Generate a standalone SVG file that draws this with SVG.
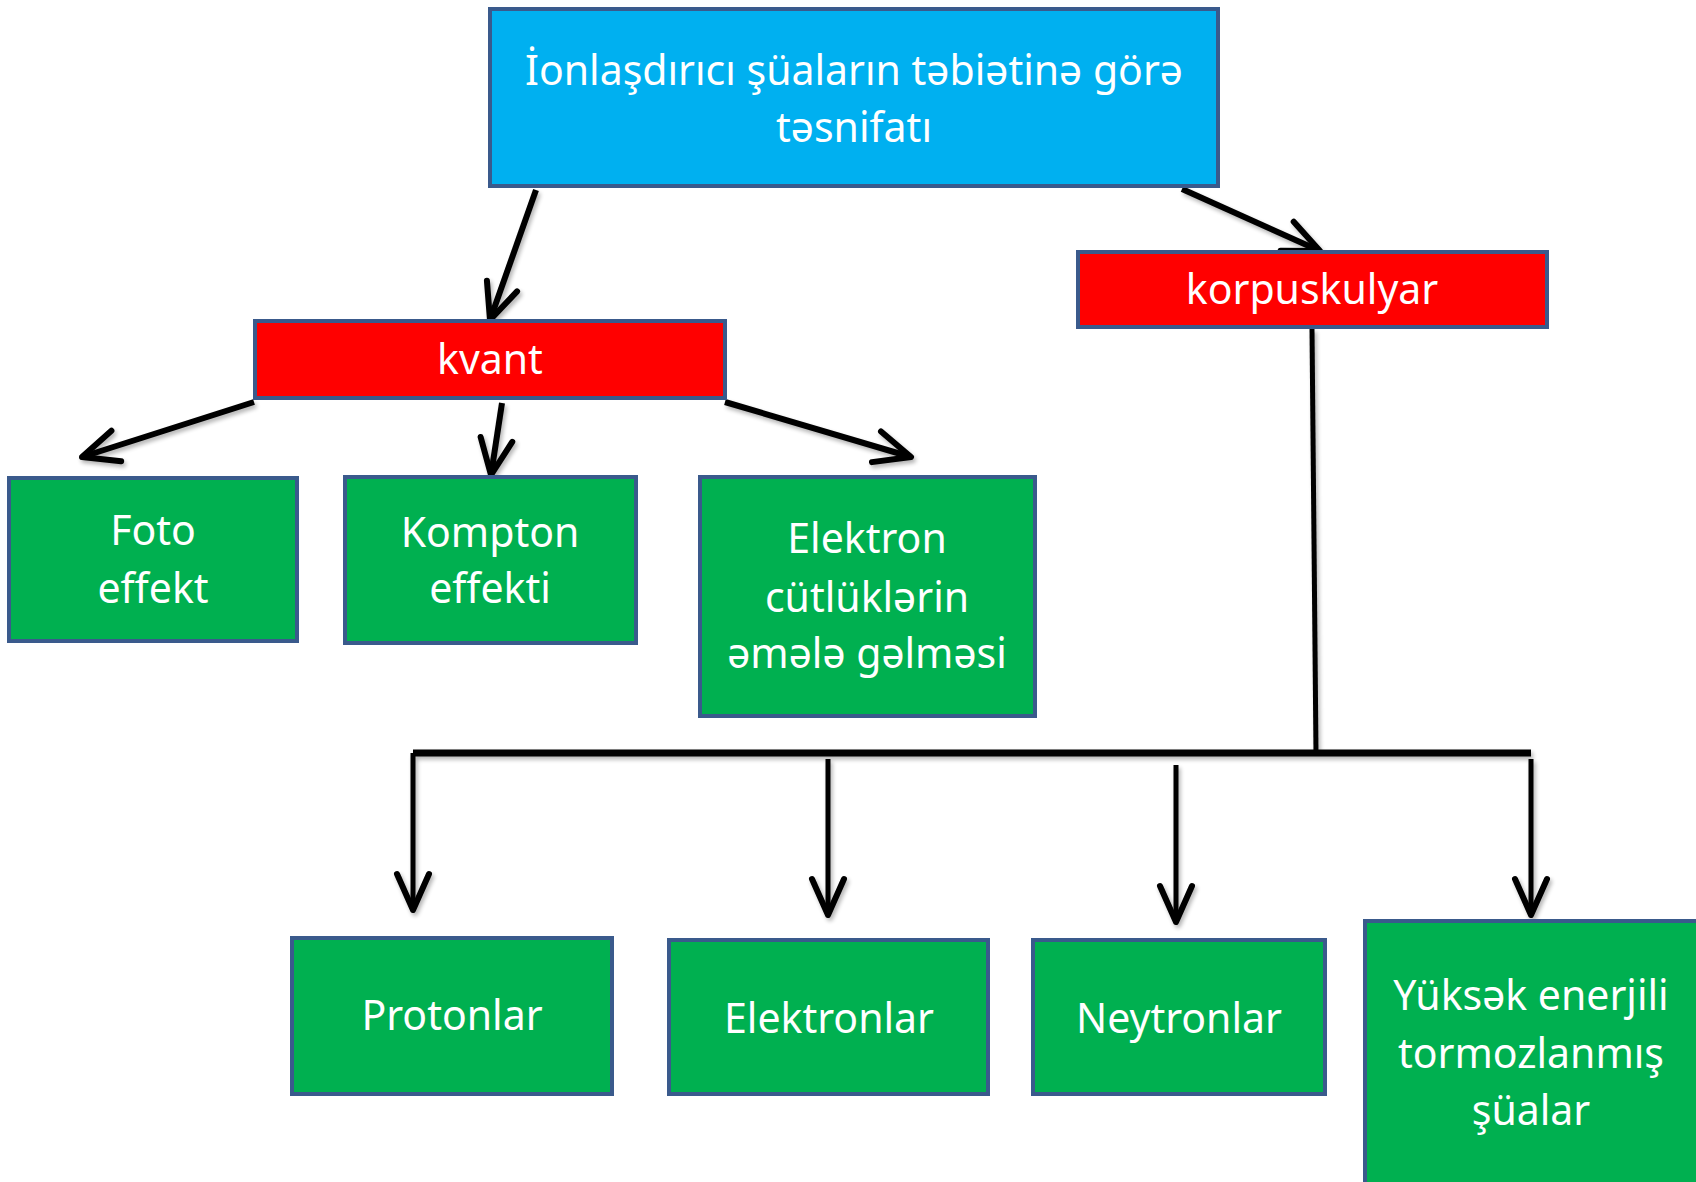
<svg xmlns="http://www.w3.org/2000/svg" width="1696" height="1182" viewBox="0 0 1696 1182">
<style>
.box{stroke:#3A5A8C;stroke-width:4}
.blue{fill:#00B0F0}
.red{fill:#FF0000}
.green{fill:#00B050}
text{font-family:"Noto Sans","Open Sans",sans-serif;fill:#FFFFFF;font-size:41px;text-anchor:middle}
.c{stroke:#000;stroke-width:6;fill:none}
.v{stroke:#000;stroke-width:5;fill:none}
</style>
<defs>
<marker id="ah" markerUnits="userSpaceOnUse" markerWidth="60" markerHeight="60" refX="0" refY="0" orient="auto" overflow="visible">
<path d="M -36 -16 L 0 0 L -36 16" fill="none" stroke="#000" stroke-width="6" stroke-linejoin="round" stroke-linecap="round"/>
</marker>
<filter id="sh" x="-20%" y="-20%" width="140%" height="140%">
<feGaussianBlur in="SourceAlpha" stdDeviation="2"/>
<feOffset dx="2" dy="3" result="b"/>
<feComponentTransfer><feFuncA type="linear" slope="0.3"/></feComponentTransfer>
<feMerge><feMergeNode/><feMergeNode in="SourceGraphic"/></feMerge>
</filter>
</defs>
<rect width="1696" height="1182" fill="#FFFFFF"/>
<g id="connectors" filter="url(#sh)">
<line class="c" x1="536" y1="190" x2="490" y2="320" marker-end="url(#ah)"/>
<line class="c" x1="1182" y1="189" x2="1320" y2="251" marker-end="url(#ah)"/>
<line class="c" x1="254" y1="402" x2="82" y2="457" marker-end="url(#ah)"/>
<line class="c" x1="502" y1="403" x2="491" y2="475" marker-end="url(#ah)"/>
<line class="c" x1="725" y1="402" x2="911" y2="457" marker-end="url(#ah)"/>
<line class="v" x1="1312" y1="329" x2="1316" y2="753"/>
<line x1="413" y1="753" x2="1531" y2="753" stroke="#000" stroke-width="7"/>
<line class="v" x1="413" y1="753" x2="413" y2="910" marker-end="url(#ah)"/>
<line class="v" x1="828" y1="759" x2="828" y2="915" marker-end="url(#ah)"/>
<line class="v" x1="1176" y1="765" x2="1176" y2="922" marker-end="url(#ah)"/>
<line class="v" x1="1531" y1="759" x2="1531" y2="915" marker-end="url(#ah)"/>
</g>
<g id="root">
<rect class="box blue" x="490" y="9" width="728" height="177"/>
<text x="854" y="85" font-size="42">İonlaşdırıcı şüaların təbiətinə görə</text>
<text x="854" y="142" font-size="42">təsnifatı</text>
</g>
<g id="kvant">
<rect class="box red" x="255" y="321" width="470" height="77"/>
<text x="490" y="374">kvant</text>
</g>
<g id="korpuskulyar">
<rect class="box red" x="1078" y="252" width="469" height="75"/>
<text x="1312" y="304">korpuskulyar</text>
</g>
<g id="foto">
<rect class="box green" x="9" y="478" width="288" height="163"/>
<text x="153" y="545">Foto</text>
<text x="153" y="603">effekt</text>
</g>
<g id="kompton">
<rect class="box green" x="345" y="477" width="291" height="166"/>
<text x="490" y="547">Kompton</text>
<text x="490" y="603">effekti</text>
</g>
<g id="elektron-cut">
<rect class="box green" x="700" y="477" width="335" height="239"/>
<text x="867" y="553">Elektron</text>
<text x="867" y="612">cütlüklərin</text>
<text x="867" y="668">əmələ gəlməsi</text>
</g>
<g id="protonlar">
<rect class="box green" x="292" y="938" width="320" height="156"/>
<text x="452" y="1030">Protonlar</text>
</g>
<g id="elektronlar">
<rect class="box green" x="669" y="940" width="319" height="154"/>
<text x="829" y="1033">Elektronlar</text>
</g>
<g id="neytronlar">
<rect class="box green" x="1033" y="940" width="292" height="154"/>
<text x="1179" y="1033">Neytronlar</text>
</g>
<g id="yuksek">
<rect class="box green" x="1365" y="921" width="340" height="270"/>
<text x="1531" y="1010">Yüksək enerjili</text>
<text x="1531" y="1068">tormozlanmış</text>
<text x="1531" y="1125">şüalar</text>
</g>
</svg>
